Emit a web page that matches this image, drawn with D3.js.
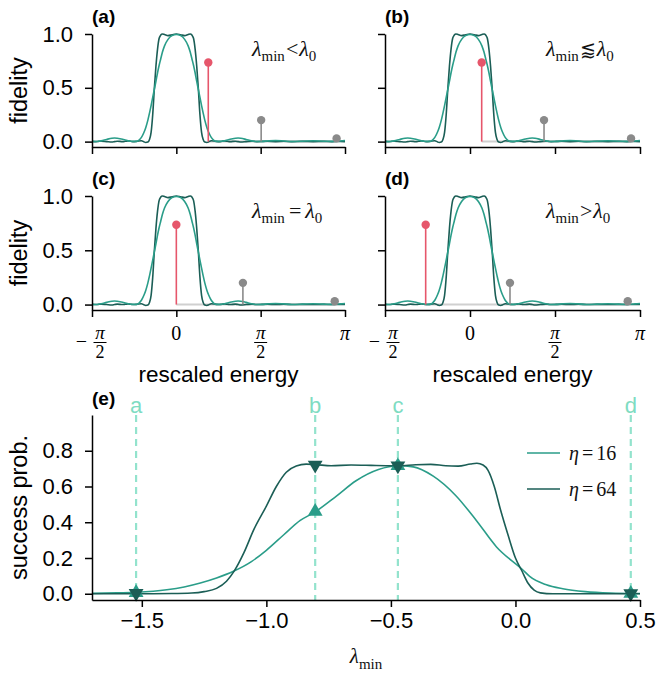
<!DOCTYPE html>
<html>
<head>
<meta charset="utf-8">
<script src="https://cdn.jsdelivr.net/npm/d3@7"></script>
<style>
  body { margin: 0; background: #fff; }
  svg { display: block; }
</style>
</head>
<body>
<svg id="fig" width="658" height="679"></svg>
<script>
// ---------- data ----------
// rescaled energy grid (rad) for the filter fidelity curves
const energy = [-1.571, -1.50, -1.45, -1.40, -1.30, -1.20, -1.15, -1.10, -1.00, -0.95, -0.90, -0.85, -0.80,
  -0.75, -0.70, -0.65, -0.60, -0.57, -0.53, -0.50, -0.47, -0.44, -0.41, -0.38, -0.35, -0.32, -0.29, -0.26,
  -0.22, -0.155, -0.08, 0, 0.08, 0.155, 0.22, 0.26, 0.29, 0.32, 0.35, 0.38, 0.41, 0.44, 0.47, 0.50, 0.53,
  0.57, 0.60, 0.65, 0.70, 0.75, 0.80, 0.85, 0.90, 0.95, 1.00, 1.10, 1.15, 1.20, 1.30, 1.40, 1.45, 1.50,
  1.60, 1.70, 1.85, 2.00, 2.15, 2.35, 2.55, 2.75, 2.90, 3.05, 3.1416];
const fidelityEta16 = [0.002, 0.001, 0.003, 0.007, 0.02, 0.031, 0.033, 0.031, 0.022, 0.015, 0.008, 0.003, 0.002,
  0.002, 0.012, 0.04, 0.09, 0.13, 0.2, 0.265, 0.335, 0.41, 0.485, 0.56, 0.64, 0.71, 0.77, 0.83,
  0.89, 0.95, 0.985, 0.995, 0.985, 0.95, 0.89, 0.83, 0.77, 0.71, 0.64, 0.56, 0.485, 0.41, 0.335, 0.265, 0.2,
  0.13, 0.09, 0.04, 0.012, 0.002, 0.002, 0.003, 0.008, 0.015, 0.022, 0.031, 0.033, 0.031, 0.02, 0.007, 0.003, 0.001,
  0.002, 0.006, 0.01, 0.006, 0.001, 0.004, 0.008, 0.004, 0.002, 0.006, 0.01];
const fidelityEta64 = [0.002, 0.0, 0.002, 0.004, 0.0, -0.004, 0.0, 0.004, 0.0, 0.003, 0.006, 0.003, 0.0,
  0.002, 0.006, 0.008, -0.003, -0.008, -0.004, 0.02, 0.085, 0.25, 0.49, 0.70, 0.86, 0.96, 0.99, 1.0,
  0.995, 0.985, 0.993, 1.0, 0.993, 0.985, 0.995, 1.0, 0.99, 0.96, 0.86, 0.70, 0.49, 0.25, 0.085, 0.02, -0.004,
  -0.008, -0.003, 0.008, 0.006, 0.002, 0.0, 0.003, 0.006, 0.003, 0.0, 0.004, 0.0, -0.004, 0.0, 0.004, 0.002, 0.0,
  0.002, 0.003, 0.0, 0.003, 0.0, 0.002, 0.0, 0.002, 0.0, 0.002, 0.0];

// eigenstate stems per panel: ground state (red) and two excited states (grey)
const panelIds = ["a", "b", "c", "d"];
const panelRelations = ["<", "⪅", "=", ">"];
const groundEnergy = [0.595, 0.216, 0.0, -0.819];
const excited1Energy = [1.58, 1.368, 1.24, 0.739];
const excited2Energy = [2.985, 2.976, 2.95, 2.915];
const stemOverlaps = [0.735, 0.2, 0.03];

const piTickValues = [-Math.PI / 2, 0, Math.PI / 2, Math.PI];
const piTickSigns = ["−", "", "", ""];
const piTickNumerators = ["π", "0", "π", "π"];
const piTickDenominators = ["2", "", "2", ""];
const fidelityTicks = [0, 0.5, 1.0];

// success probability versus lambda_min
const lambdaEta16 = [-1.70, -1.60, -1.52, -1.40, -1.33, -1.265, -1.20, -1.13, -1.06, -1.00, -0.93, -0.864, -0.804,
  -0.72, -0.64, -0.55, -0.47, -0.41, -0.33, -0.24, -0.157, -0.076, 0.03, 0.057, 0.124, 0.19, 0.28, 0.38, 0.50];
const successEta16 = [0.002, 0.005, 0.008, 0.022, 0.038, 0.06, 0.088, 0.127, 0.18, 0.243, 0.33, 0.41, 0.458,
  0.545, 0.632, 0.695, 0.716, 0.71, 0.658, 0.55, 0.41, 0.262, 0.133, 0.097, 0.05, 0.028, 0.012, 0.004, 0.001];
const lambdaEta64 = [-1.70, -1.50, -1.38, -1.30, -1.25, -1.20, -1.16, -1.13, -1.09, -1.05, -1.00, -0.96, -0.92,
  -0.88, -0.84, -0.80, -0.74, -0.66, -0.58, -0.52, -0.47, -0.40, -0.34, -0.28, -0.23, -0.18, -0.155, -0.13,
  -0.11, -0.085, -0.06, -0.03, 0.0, 0.025, 0.05, 0.075, 0.10, 0.15, 0.50];
const successEta64 = [0.0, 0.0, 0.001, 0.004, 0.012, 0.03, 0.07, 0.125, 0.23, 0.36, 0.49, 0.60, 0.68,
  0.715, 0.725, 0.722, 0.716, 0.72, 0.718, 0.716, 0.715, 0.722, 0.724, 0.716, 0.714, 0.726, 0.73, 0.72,
  0.69, 0.60, 0.47, 0.33, 0.20, 0.13, 0.06, 0.02, 0.005, 0.0, 0.0];

const markerLetters = ["a", "b", "c", "d"];
const markerLambda = [-1.523, -0.804, -0.472, 0.463];
const markerEta16 = [0.006, 0.46, 0.716, 0.001];
const markerEta64 = [0.003, 0.72, 0.716, 0.001];
const successTicksX = [-1.5, -1.0, -0.5, 0.0, 0.5];
const successTicksY = [0, 0.2, 0.4, 0.6, 0.8];

// ---------- style ----------
const SANS = "'Liberation Sans', Arial, Helvetica, sans-serif";
const SERIF = "'Liberation Serif', 'DejaVu Serif', serif";
const SYMBOL = "'DejaVu Sans', 'DejaVu Serif', 'Noto Sans', sans-serif";
const C16 = "#2a9d89";
const C64 = "#1b5e56";
const CRED = "#e6566b";
const CGRAY = "#8a8a8a";
const CBASE = "#d0d0d0";
const CGUIDE = "#93e3cd";
const CLETTER = "#7fdcc2";

const layout = {
  cols: [[92, 345], [385, 640]],
  rows: [[147, 34], [310, 196]],
  eX: [92, 640],
  eY: [600, 415]
};

const svg = d3.select("#fig");

function styleAxis(sel) {
  sel.select(".domain").attr("stroke", "#000").attr("stroke-width", 1.5);
  sel.selectAll(".tick line").attr("stroke", "#000").attr("stroke-width", 1.5);
  sel.selectAll(".tick text").attr("font-family", SANS).attr("font-size", 22).attr("fill", "#000");
}

function relationLabel(g, x, yb, rel) {
  const t = g.append("text").attr("x", x).attr("y", yb)
    .attr("font-family", SERIF).attr("font-size", 22).attr("fill", "#111");
  t.append("tspan").attr("font-style", "italic").text("λ");
  t.append("tspan").attr("font-size", 15).attr("dy", 5).text("min");
  if (rel === "⪅") {
    t.append("tspan").attr("dy", -5).attr("dx", 1).attr("font-family", SYMBOL).attr("font-size", 19).text(rel);
    t.append("tspan").attr("dx", 1).attr("font-style", "italic").text("λ");
  } else {
    t.append("tspan").attr("dy", -5).attr("dx", rel === "=" ? 4 : 1).text(rel);
    t.append("tspan").attr("dx", rel === "=" ? 4 : 1).attr("font-style", "italic").text("λ");
  }
  t.append("tspan").attr("font-size", 15).attr("dy", 5).text("0");
}

// ---------- fidelity panels (a)-(d) ----------
panelIds.forEach((id, i) => {
  const col = i % 2, row = Math.floor(i / 2);
  const x = d3.scaleLinear([-Math.PI / 2, Math.PI], layout.cols[col]);
  const y = d3.scaleLinear([-0.05, 1.0], layout.rows[row]);
  const g = svg.append("g");

  // stem baseline, beneath the curves
  const stemE = [groundEnergy[i], excited1Energy[i], excited2Energy[i]];
  g.append("line")
    .attr("x1", x(d3.min(stemE))).attr("x2", x(d3.max(stemE)))
    .attr("y1", y(0)).attr("y2", y(0))
    .attr("stroke", CBASE).attr("stroke-width", 2);

  const line = d3.line().x(d => x(d[0])).y(d => y(d[1])).curve(d3.curveMonotoneX);
  g.append("path").datum(d3.zip(energy, fidelityEta64))
    .attr("d", line).attr("fill", "none").attr("stroke", C64).attr("stroke-width", 1.6);
  g.append("path").datum(d3.zip(energy, fidelityEta16))
    .attr("d", line).attr("fill", "none").attr("stroke", C16).attr("stroke-width", 1.6);

  // eigenstate stems
  stemE.forEach((e, k) => {
    const c = k === 0 ? CRED : CGRAY;
    g.append("line").attr("x1", x(e)).attr("x2", x(e))
      .attr("y1", y(0)).attr("y2", y(stemOverlaps[k]))
      .attr("stroke", c).attr("stroke-width", 1.6);
    g.append("circle").attr("cx", x(e)).attr("cy", y(stemOverlaps[k]))
      .attr("r", 4.2).attr("fill", c);
  });

  // axes
  const xAxis = d3.axisBottom(x).tickValues(piTickValues).tickFormat("").tickSize(7).tickSizeOuter(0);
  g.append("g").attr("transform", `translate(0,${layout.rows[row][0]})`).call(xAxis).call(styleAxis);
  const yAxis = d3.axisLeft(y).tickValues(fidelityTicks)
    .tickFormat(col === 0 ? d3.format(".1f") : () => "").tickSize(7).tickSizeOuter(0).tickPadding(12);
  g.append("g").attr("transform", `translate(${layout.cols[col][0]},0)`).call(yAxis).call(styleAxis);

  // pi-fraction tick labels on the bottom row
  if (row === 1) {
    const base = layout.rows[row][0];
    piTickValues.forEach((v, k) => {
      const gx = x(v);
      if (piTickDenominators[k]) {
        const off = piTickSigns[k] ? 8 : 0;
        g.append("text").attr("x", gx + off).attr("y", base + 29).attr("text-anchor", "middle")
          .attr("font-family", SERIF).attr("font-style", "italic").attr("font-size", 19).text(piTickNumerators[k]);
        g.append("line").attr("x1", gx + off - 6.5).attr("x2", gx + off + 6.5)
          .attr("y1", base + 32.5).attr("y2", base + 32.5).attr("stroke", "#000").attr("stroke-width", 1);
        g.append("text").attr("x", gx + off).attr("y", base + 47.5).attr("text-anchor", "middle")
          .attr("font-family", SERIF).attr("font-size", 18).text(piTickDenominators[k]);
        if (piTickSigns[k]) {
          g.append("text").attr("x", gx - 10.5).attr("y", base + 38).attr("text-anchor", "middle")
            .attr("font-family", SERIF).attr("font-size", 20).text(piTickSigns[k]);
        }
      } else {
        g.append("text").attr("x", gx).attr("y", base + 30).attr("text-anchor", "middle")
          .attr("font-family", SERIF).attr("font-size", 20)
          .attr("font-style", piTickNumerators[k] === "π" ? "italic" : "normal")
          .text(piTickNumerators[k]);
      }
    });
    g.append("text").attr("x", (layout.cols[col][0] + layout.cols[col][1]) / 2).attr("y", 382)
      .attr("text-anchor", "middle").attr("font-family", SANS).attr("font-size", 22.5)
      .text("rescaled energy");
  }

  if (col === 0) {
    const cy = (layout.rows[row][0] + layout.rows[row][1]) / 2;
    g.append("text").attr("transform", `translate(27,${cy}) rotate(-90)`)
      .attr("text-anchor", "middle").attr("font-family", SANS).attr("font-size", 23.5).text("fidelity");
  }

  g.append("text").attr("x", layout.cols[col][0]).attr("y", row === 0 ? 23 : 185)
    .attr("font-family", SANS).attr("font-weight", "bold").attr("font-size", 19).text(`(${id})`);

  relationLabel(g, col === 0 ? 252 : 546, layout.rows[row][1] + 22, panelRelations[i]);
});

// ---------- success probability panel (e) ----------
(function () {
  const x = d3.scaleLinear([-1.7, 0.5], layout.eX);
  const y = d3.scaleLinear([-0.035, 1.0], layout.eY);
  const g = svg.append("g");

  // guide lines at the four lambda_min values of panels (a)-(d)
  markerLambda.forEach((l, k) => {
    g.append("line").attr("x1", x(l)).attr("x2", x(l))
      .attr("y1", y(1.0)).attr("y2", y(-0.035))
      .attr("stroke", CGUIDE).attr("stroke-width", 2.2).attr("stroke-dasharray", "7,5");
    g.append("text").attr("x", x(l)).attr("y", 413).attr("text-anchor", "middle")
      .attr("font-family", SANS).attr("font-size", 22).attr("fill", CLETTER).text(markerLetters[k]);
  });

  const line = d3.line().x(d => x(d[0])).y(d => y(d[1])).curve(d3.curveMonotoneX);
  g.append("path").datum(d3.zip(lambdaEta16, successEta16))
    .attr("d", line).attr("fill", "none").attr("stroke", C16).attr("stroke-width", 1.6);
  g.append("path").datum(d3.zip(lambdaEta64, successEta64))
    .attr("d", line).attr("fill", "none").attr("stroke", C64).attr("stroke-width", 1.6);

  const tri = d3.symbol().type(d3.symbolTriangle).size(95);
  markerLambda.forEach((l, k) => {
    g.append("path").attr("d", tri())
      .attr("transform", `translate(${x(l)},${y(markerEta16[k])})`).attr("fill", C16);
  });
  markerLambda.forEach((l, k) => {
    g.append("path").attr("d", tri())
      .attr("transform", `translate(${x(l)},${y(markerEta64[k])}) rotate(180)`).attr("fill", C64);
  });

  const xAxis = d3.axisBottom(x).tickValues(successTicksX).tickFormat(d3.format(".1f"))
    .tickSize(7).tickSizeOuter(0).tickPadding(5);
  g.append("g").attr("transform", `translate(0,${layout.eY[0]})`).call(xAxis).call(styleAxis);
  const yAxis = d3.axisLeft(y).tickValues(successTicksY).tickFormat(d3.format(".1f"))
    .tickSize(7).tickSizeOuter(0).tickPadding(12);
  g.append("g").attr("transform", `translate(${layout.eX[0]},0)`).call(yAxis).call(styleAxis);

  // legend
  [["16", C16, 453], ["64", C64, 489]].forEach(([eta, c, ly]) => {
    g.append("line").attr("x1", 527).attr("x2", 560).attr("y1", ly).attr("y2", ly)
      .attr("stroke", c).attr("stroke-width", 1.6);
    const t = g.append("text").attr("x", 569).attr("y", ly + 7)
      .attr("font-family", SERIF).attr("font-size", 20).attr("fill", "#111");
    t.append("tspan").attr("font-style", "italic").text("η");
    t.append("tspan").attr("dx", 3).text("=");
    t.append("tspan").attr("dx", 3).text(eta);
  });

  // axis labels
  const xl = g.append("text").attr("x", 366).attr("y", 663).attr("text-anchor", "middle")
    .attr("font-family", SERIF).attr("font-size", 21).attr("fill", "#111");
  xl.append("tspan").attr("font-style", "italic").text("λ");
  xl.append("tspan").attr("font-size", 15).attr("dy", 6).text("min");

  g.append("text").attr("transform", `translate(27,${(layout.eY[0] + layout.eY[1]) / 2}) rotate(-90)`)
    .attr("text-anchor", "middle").attr("font-family", SANS).attr("font-size", 23.5).text("success prob.");

  g.append("text").attr("x", 92).attr("y", 405)
    .attr("font-family", SANS).attr("font-weight", "bold").attr("font-size", 19).text("(e)");
})();
</script>
</body>
</html>
